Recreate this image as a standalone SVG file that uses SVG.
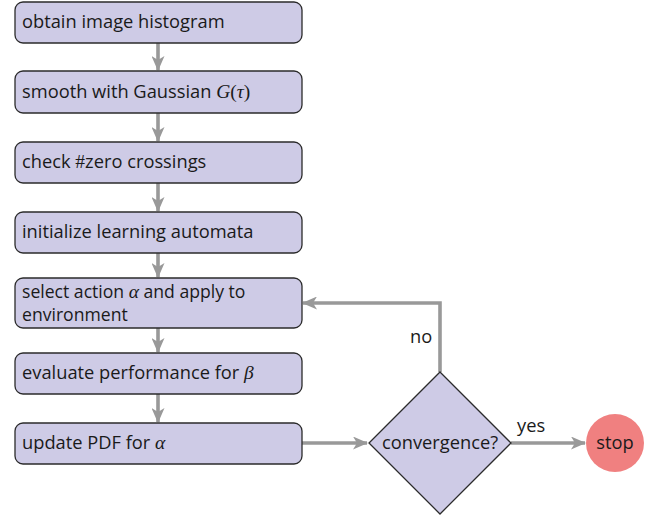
<svg xmlns="http://www.w3.org/2000/svg" width="660" height="515" viewBox="0 0 660 515">
<style>
.box{fill:#cecbe6;stroke:#2b2b2b;stroke-width:1.3}
.t{font-family:"Open Sans","DejaVu Sans",sans-serif;font-size:18.3px;fill:#1a1a1a}
.s{font-size:17.6px}
.m{font-family:"Liberation Serif",serif;font-style:italic;font-size:19.5px}
.r{font-family:"Liberation Serif",serif;font-size:19.5px}
.c{fill:none;stroke:#999999;stroke-width:3.6}
</style>
<defs>
<marker id="ah" viewBox="0 0 15 13" refX="14" refY="6.5" markerWidth="15" markerHeight="13" markerUnits="userSpaceOnUse" orient="auto">
<path d="M0,0 L15,6.5 L0,13 L4,6.5 Z" fill="#999999"/>
</marker>
</defs>
<g id="connectors">
<path class="c" d="M158,43 V70" marker-end="url(#ah)"/>
<path class="c" d="M158,113 V141" marker-end="url(#ah)"/>
<path class="c" d="M158,183 V211" marker-end="url(#ah)"/>
<path class="c" d="M158,253 V277" marker-end="url(#ah)"/>
<path class="c" d="M158,328 V352" marker-end="url(#ah)"/>
<path class="c" d="M158,394 V422" marker-end="url(#ah)"/>
<path class="c" d="M302,443 H367" marker-end="url(#ah)"/>
<path class="c" d="M511,443 H585" marker-end="url(#ah)"/>
<path class="c" d="M440,372 V303 H303" marker-end="url(#ah)"/>
<text class="t" x="410" y="343">no</text>
<text class="t" x="517" y="432">yes</text>
</g>
<g id="n1"><rect class="box" x="15" y="2" width="287" height="41" rx="8"/><text class="t" x="22" y="28">obtain image histogram</text></g>
<g id="n2"><rect class="box" x="15" y="71" width="287" height="42" rx="8"/><text class="t" x="22" y="98">smooth with Gaussian <tspan class="m">G</tspan><tspan class="r">(</tspan><tspan class="m">τ</tspan><tspan class="r">)</tspan></text></g>
<g id="n3"><rect class="box" x="15" y="142" width="287" height="41" rx="8"/><text class="t" x="22" y="168">check <tspan class="r">#</tspan>zero crossings</text></g>
<g id="n4"><rect class="box" x="15" y="212" width="287" height="41" rx="8"/><text class="t" x="22" y="238">initialize learning automata</text></g>
<g id="n5"><rect class="box" x="15" y="278" width="287" height="50" rx="8"/><text class="t s" x="22" y="297.5">select action <tspan class="m">α</tspan> and apply to</text><text class="t s" x="22" y="320.5">environment</text></g>
<g id="n6"><rect class="box" x="15" y="353" width="287" height="41" rx="8"/><text class="t" x="22" y="379">evaluate performance for <tspan class="m">β</tspan></text></g>
<g id="n7"><rect class="box" x="15" y="423" width="287" height="41" rx="8"/><text class="t" x="22" y="449">update PDF for <tspan class="m">α</tspan></text></g>
<g id="n8"><path class="box" d="M440,372 L511,443 L440,514 L369,443 Z"/><text class="t" x="440" y="449" text-anchor="middle">convergence?</text></g>
<g id="n9"><circle cx="615" cy="443" r="29" fill="#f08080"/><text class="t" x="615" y="449" text-anchor="middle">stop</text></g>
</svg>
